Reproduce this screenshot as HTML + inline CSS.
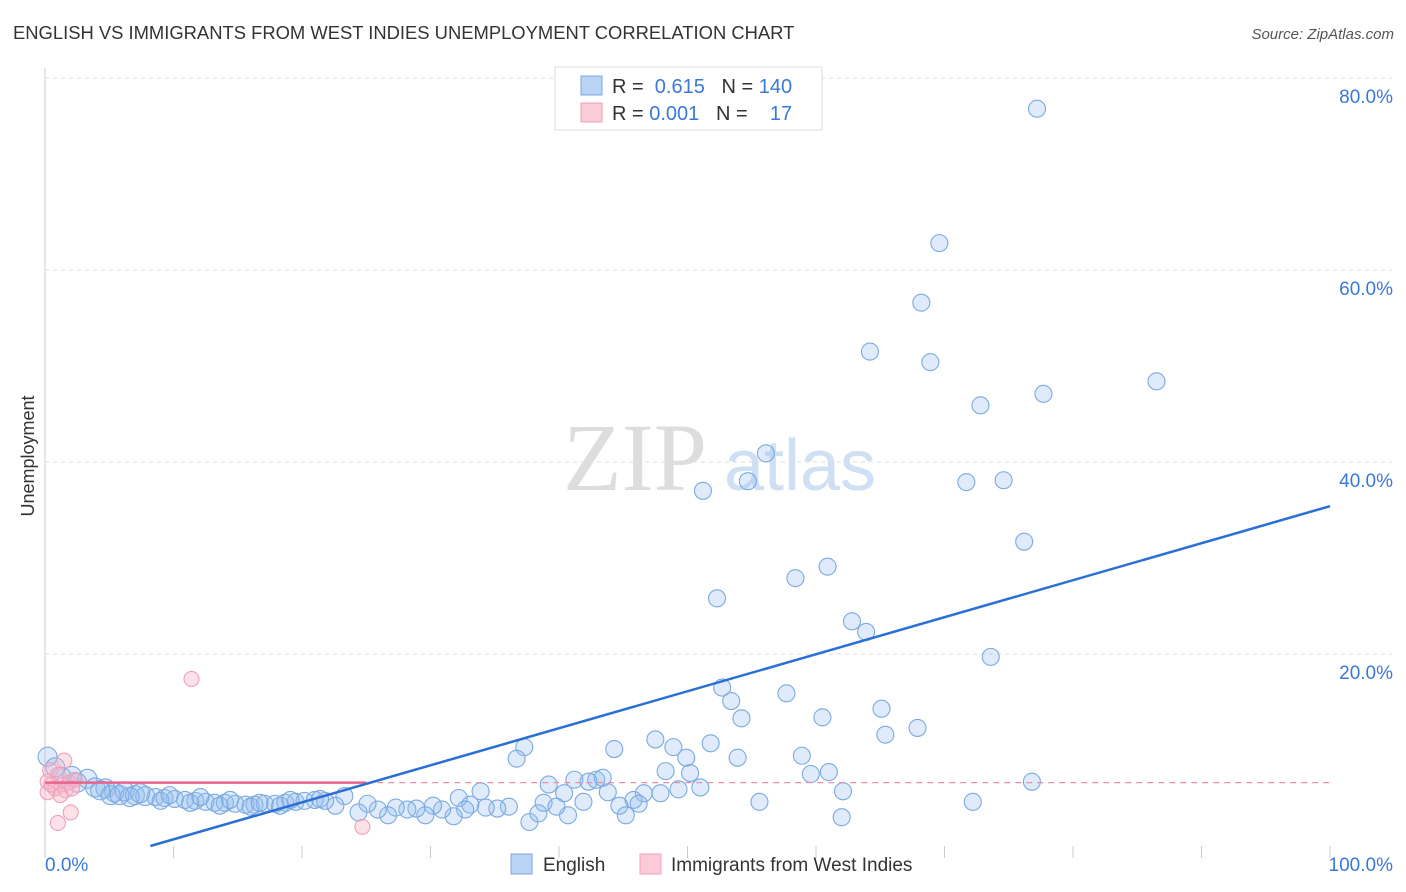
<!DOCTYPE html>
<html><head><meta charset="utf-8">
<style>
body{margin:0;background:#fff;font-family:"Liberation Sans",sans-serif;}
svg{display:block}
</style></head>
<body>
<svg id="chart" width="1406" height="892">
<text x="13" y="39" font-size="18.4" fill="#333">ENGLISH VS IMMIGRANTS FROM WEST INDIES UNEMPLOYMENT CORRELATION CHART</text>
<text x="1394" y="39" font-size="15" fill="#555" font-style="italic" text-anchor="end">Source: ZipAtlas.com</text>
<text x="34" y="456" font-size="18" fill="#333" text-anchor="middle" transform="rotate(-90 34 456)">Unemployment</text>
<g>
<text x="635" y="490" font-size="96" fill="#ddd" font-family="Liberation Serif,serif" text-anchor="middle">ZIP</text>
<text x="800" y="490" font-size="72" fill="#cfe0f4" text-anchor="middle">atlas</text>
</g>
<g id="grid"></g><g id="marks"></g>
<g>
<rect x="555" y="67" width="267" height="63" fill="#fff" stroke="#ddd"/>
<rect x="581" y="76" width="21" height="19" fill="#b8d3f3" stroke="#7aaae0"/>
<rect x="581" y="103" width="21" height="19" fill="#fbcbd8" stroke="#f0a0b8"/>
<text x="612" y="93" font-size="20" fill="#333">R = <tspan fill="#3b78d8">&#160;0.615</tspan>&#160;&#160;&#160;N = <tspan fill="#3b78d8">140</tspan></text>
<text x="612" y="120" font-size="20" fill="#333">R = <tspan fill="#3b78d8">0.001</tspan>&#160;&#160;&#160;N = <tspan fill="#3b78d8">&#160;&#160;&#160;17</tspan></text>
</g>
<g>
<rect x="511" y="854" width="21" height="20" fill="#b8d3f3" stroke="#7aaae0"/>
<text x="543" y="871" font-size="19" fill="#333">English</text>
<rect x="640" y="854" width="21" height="20" fill="#fbcbd8" stroke="#f0a0b8"/>
<text x="671" y="871" font-size="19" fill="#333">Immigrants from West Indies</text>
</g>
</svg>
<script>
const xTicks=[0,10,20,30,40,50,60,70,80,90,100];
const yTicks=[20,40,60,80];
const englishX=[77.2,69.6,68.2,64.2,68.9,86.5,77.7,72.8,56.1,54.7,51.2,71.7,74.6,76.2,60.9,58.4,52.3,62.8,63.9,73.6,52.7,53.4,57.7,65.1,54.2,60.5,67.9,65.4,47.5,51.8,37.3,44.3,48.9,49.9,36.7,53.9,58.9,48.3,50.2,59.6,61.0,76.8,62.1,55.6,72.2,62.0,51.0,49.3,47.9,46.6,42.9,43.4,41.2,42.3,39.2,43.8,40.4,41.9,33.9,32.2,38.8,44.7,45.8,46.2,40.7,37.7,45.2,38.4,39.8,36.1,35.2,34.3,33.1,32.7,31.8,30.9,30.2,29.6,28.9,28.2,27.3,26.7,25.9,25.1,24.4,23.3,22.6,0.2,0.8,1.3,2.1,3.3,2.5,3.9,4.7,5.4,6.2,7.0,7.8,8.6,9.3,10.1,10.9,11.7,12.5,13.2,14.0,14.8,15.6,16.3,17.1,17.9,18.7,19.5,20.2,21.0,21.8,5.1,6.6,9.0,11.3,13.6,16.0,18.3,4.3,5.8,7.4,9.7,12.1,14.4,16.7,19.1,21.4];
const englishY=[76.8,62.8,56.6,51.5,50.4,48.4,47.1,45.9,40.9,38.0,37.0,37.9,38.1,31.7,29.1,27.9,25.8,23.4,22.3,19.7,16.5,15.1,15.9,14.3,13.3,13.4,12.3,11.6,11.1,10.7,10.3,10.1,10.3,9.2,9.1,9.2,9.4,7.8,7.6,7.5,7.7,6.7,5.7,4.6,4.6,3.0,6.1,5.9,5.5,5.5,6.9,7.1,6.9,6.7,6.4,5.6,5.5,4.6,5.7,5.0,4.5,4.2,4.8,4.4,3.2,2.5,3.2,3.4,4.1,4.1,3.9,4.0,4.3,3.8,3.1,3.8,4.2,3.2,3.9,3.8,4.0,3.2,3.8,4.4,3.5,5.2,4.2,9.3,8.2,7.2,7.3,7.0,6.6,6.1,6.0,5.6,5.7,5.3,5.2,5.1,5.0,4.9,4.8,4.7,4.6,4.5,4.5,4.4,4.3,4.3,4.4,4.4,4.5,4.6,4.7,4.8,4.7,5.3,5.1,4.7,4.5,4.2,4.1,4.2,5.8,5.3,5.5,5.3,5.1,4.8,4.5,4.8,4.9];
const indiesX=[1.5,0.4,1.0,0.2,0.8,1.3,1.9,2.3,0.2,0.5,1.6,2.1,11.4,1.0,2.0,24.7,1.2];
const indiesY=[8.9,7.9,7.4,6.7,6.0,6.4,6.6,6.9,5.6,6.4,5.8,6.0,17.4,2.4,3.5,2.0,5.3];
const englishTrend=[[8.2,0],[100,35.4]];
const indiesTrendY=6.6, indiesTrendEnd=25;

const NS='http://www.w3.org/2000/svg';
const X=v=>45+v*12.85, Y=v=>846-v*9.6;
function mk(tag,attrs,parent){const e=document.createElementNS(NS,tag);for(const k in attrs)e.setAttribute(k,attrs[k]);parent.appendChild(e);return e;}
const grid=document.getElementById('grid'), marks=document.getElementById('marks');
let ax=mk('line',{x1:45,y1:68,x2:45,y2:846,stroke:'#ccc'},grid);


yTicks.forEach(t=>{
 const l=mk('line',{x1:45,x2:1392,y1:Y(t),y2:Y(t),stroke:'#ddd','stroke-dasharray':'4,4'},grid);
 
 
 const tx=mk('text',{x:1393,y:Y(t)+25,'font-size':19,fill:'#3b78d8','text-anchor':'end'},grid);
 tx.textContent=t.toFixed(1)+'%';
 
 
});
xTicks.forEach(t=>{
 const l=mk('line',{x1:X(t),x2:X(t),y1:846,y2:858,stroke:'#ccc'},grid);
 
 
});
[[0,'0.0%','start',45],[100,'100.0%','end',1393]].forEach(a=>{
 const tx=mk('text',{x:a[3],y:871,'font-size':19,fill:'#3b78d8','text-anchor':a[2]},grid);
 tx.textContent=a[1];
 
 
});
englishX.forEach((v,i)=>{
 const r=v<8?9.5:8.5;
 const c=mk('circle',{cx:X(v),cy:Y(englishY[i]),r:r,fill:'rgba(150,190,240,0.3)',stroke:'#7aaae0','stroke-width':1.1},marks);
 
 
});
indiesX.forEach((v,i)=>{
 const c=mk('circle',{cx:X(v),cy:Y(indiesY[i]),r:7.5,fill:'rgba(248,180,200,0.4)',stroke:'#f0a0b8','stroke-width':1.1},marks);
 
 
});
let pd=mk('line',{x1:X(indiesTrendEnd),x2:X(100),y1:Y(indiesTrendY),y2:Y(indiesTrendY),stroke:'#e890aa','stroke-dasharray':'6,5','stroke-width':1.2},marks);


let pl=mk('line',{x1:X(0),x2:X(indiesTrendEnd),y1:Y(indiesTrendY),y2:Y(indiesTrendY),stroke:'#e8658c','stroke-width':2.5},marks);


let bl=mk('line',{x1:X(englishTrend[0][0]),y1:Y(englishTrend[0][1]),x2:X(englishTrend[1][0]),y2:Y(englishTrend[1][1]),stroke:'#2a6fd6','stroke-width':2.5},marks);


</script>
</body></html>
